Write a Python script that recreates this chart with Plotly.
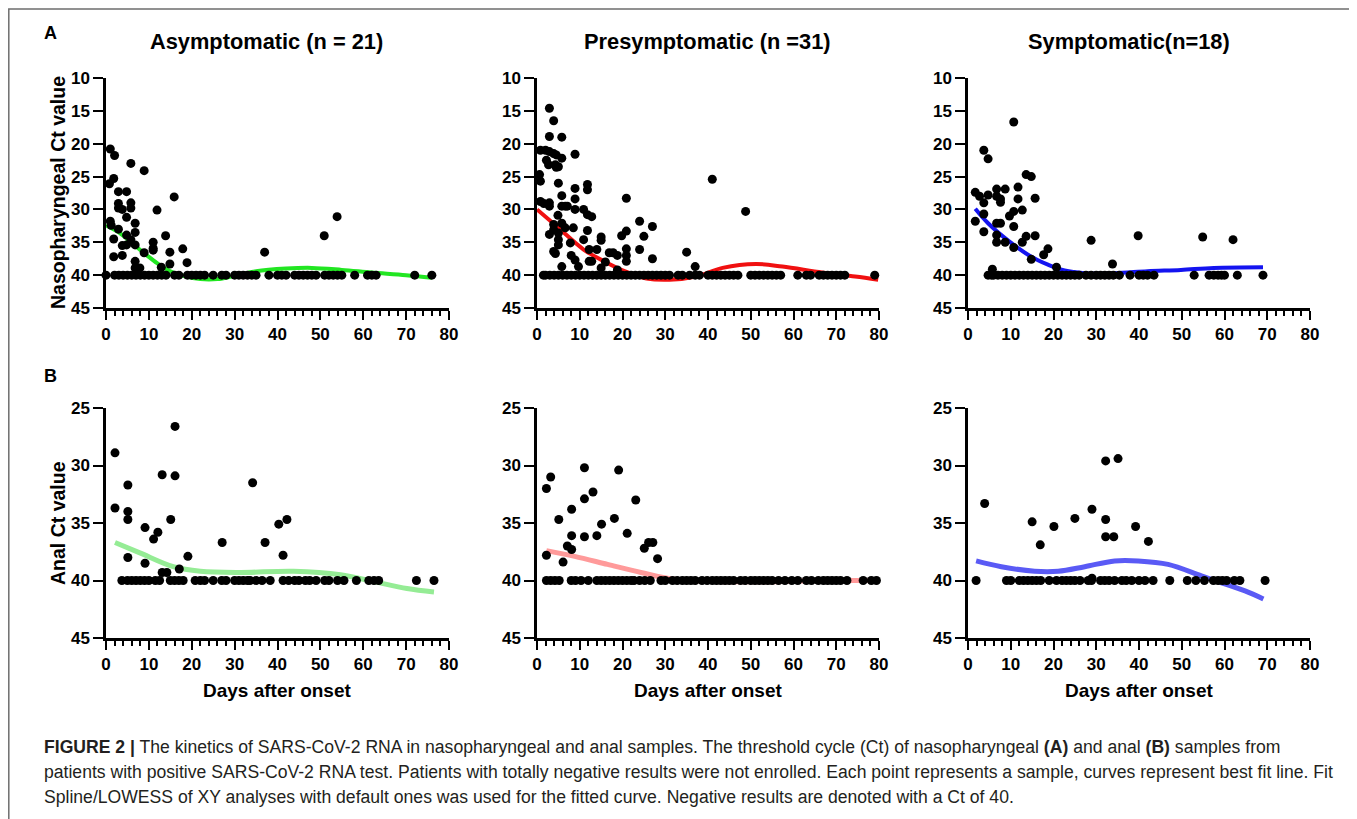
import plotly.graph_objects as go

W, H = 1357, 819
NEG_CT = 40

# ---------------- Data ----------------
titles = ["Asymptomatic (n = 21)", "Presymptomatic (n =31)", "Symptomatic(n=18)"]
x_ticks = [0, 10, 20, 30, 40, 50, 60, 70, 80]
yA_ticks = [10, 15, 20, 25, 30, 35, 40, 45]
yB_ticks = [25, 30, 35, 40, 45]

# A1 Asymptomatic - nasopharyngeal
a1_pos_days = [1, 0.8, 2, 1.8, 1, 1.2, 1.8, 1.8, 2.9, 2.9, 2.9, 2.9, 3.8, 3.8, 3.8, 4.8, 4.8, 4.8, 4.8,
               5.8, 5.8, 5.8, 5.8, 6.8, 6.8, 6.8, 6.8, 6.8, 7.9, 8.9, 8.9, 11, 11, 11, 11.9, 12.9, 13.9,
               14.9, 14.9, 15.9, 17.9, 18.9, 37, 50.9, 53.9]
a1_pos_ct = [20.8, 26.1, 21.8, 25.3, 31.8, 32.4, 34.5, 37.2, 27.3, 29.1, 29.8, 33.0, 30.0, 35.5, 37.0,
             27.3, 31.2, 33.9, 35.4, 23.0, 29.0, 29.8, 34.6, 32.1, 33.5, 35.4, 37.9, 38.9, 38.9, 24.1,
             36.6, 35.0, 35.9, 36.2, 30.1, 38.8, 34.0, 36.5, 38.3, 28.1, 36.0, 38.1, 36.5, 34.0, 31.1]
a1_neg_days = [0, 2, 3, 4, 5, 6, 7, 8, 9, 10, 11, 12, 13, 14, 16, 17, 19, 20, 21, 22, 23, 25, 27, 28,
               30, 31, 32, 33, 34, 35, 38, 40, 41, 42, 44, 45, 46, 47, 48, 49, 51, 52, 53, 54, 55, 58,
               61, 62, 63, 72, 76]
a1_fit_days = [0, 3, 6, 9, 12, 15, 18, 22, 26, 30, 35, 42, 48, 55, 62, 70, 76]
a1_fit_ct = [32.4, 33.5, 35.1, 36.7, 38.2, 39.4, 40.1, 40.6, 40.6, 40.1, 39.4, 39.0, 38.9, 39.2, 39.6, 40.0, 40.4]

# A2 Presymptomatic - nasopharyngeal
a2_pos_days = [0.6, 0.8, 0.8, 1.6, 2.9, 3.9, 2.9, 5.8, 0.8, 2.0, 2.9, 3.9, 4.5, 2.2, 2.7, 4.3, 5.8, 8.9,
               5.0, 4.5, 5.0, 2.9, 2.9, 4.9, 3.9, 3.9, 2.9, 5.0, 5.0, 5.0, 3.9, 4.3, 5.8, 5.8, 6.6, 7.1,
               5.8, 6.6, 8.5, 7.8, 5.8, 8.0, 8.9, 9.7, 8.9, 8.9, 8.9, 10.9, 11.8, 12.8, 11.8, 11.8, 10.9,
               11.8, 12.2, 12.2, 12.8, 14.0, 15.0, 15.0, 15.0, 16.0, 16.9, 17.8, 18.8, 19.8, 20.9, 18.8,
               20.9, 20.9, 20.9, 20.9, 24.0, 24.0, 25.0, 27.0, 27.0, 35.0, 37.0, 41.0, 48.8]
a2_pos_ct = [24.7, 25.7, 28.8, 29.1, 14.6, 16.5, 18.9, 19.0, 21.0, 21.0, 21.2, 21.5, 21.7, 22.5, 23.2,
             23.2, 22.2, 21.6, 23.5, 23.6, 26.0, 29.0, 29.5, 30.9, 32.3, 33.1, 33.8, 33.6, 34.6, 35.4,
             36.4, 36.7, 27.9, 29.5, 29.5, 29.5, 32.1, 32.8, 32.8, 35.1, 38.7, 37.0, 37.7, 38.7, 26.8,
             28.4, 30.0, 30.0, 30.8, 31.1, 26.2, 27.0, 34.6, 33.2, 36.1, 37.9, 37.9, 36.1, 34.2, 34.7,
             38.9, 38.0, 36.6, 36.6, 37.0, 34.0, 33.3, 39.2, 28.3, 36.0, 37.0, 37.9, 31.8, 36.1, 34.1,
             32.6, 37.5, 36.5, 38.7, 25.4, 30.3]
a2_neg_days = [1.5, 2, 3, 4, 5, 6, 7, 8, 9, 10, 11, 12, 13, 14, 15, 16, 17, 18, 19, 20, 21, 22, 23, 24,
               25, 26, 27, 28, 29, 30, 31, 33, 34, 35.7, 37, 38, 40, 41, 42, 43, 44, 45, 46, 47, 50, 51,
               52, 53, 54, 55, 56, 57, 61, 63, 64, 66, 67, 68, 69, 70, 71, 72, 79]
a2_fit_days = [0, 5, 10.9, 16, 20.5, 25.6, 31, 37.2, 43.4, 51.2, 57.4, 66.7, 74.4, 79.8]
a2_fit_ct = [30.0, 32.8, 36.1, 38.0, 39.4, 40.5, 40.7, 40.2, 38.9, 38.3, 38.7, 39.6, 40.2, 40.7]

# A3 Symptomatic - nasopharyngeal
a3_pos_days = [1.7, 1.7, 2.7, 3.7, 3.7, 3.7, 3.7, 4.7, 4.7, 5.7, 6.7, 6.7, 6.7, 7.6, 6.7, 6.7, 7.6, 7.6,
               8.7, 8.7, 9.7, 10.7, 10.7, 10.7, 10.7, 11.7, 11.7, 12.7, 12.7, 13.6, 14.8, 13.6, 14.8,
               15.7, 15.7, 17.7, 18.7, 20.7, 28.8, 33.8, 39.8, 54.9, 62.0]
a3_pos_ct = [31.8, 27.4, 28.0, 29.0, 30.7, 33.4, 21.0, 22.3, 27.8, 39.1, 26.9, 28.0, 32.1, 32.1, 33.9,
             35.0, 28.4, 28.9, 26.9, 35.0, 31.0, 16.7, 30.3, 32.6, 35.8, 26.6, 28.4, 30.1, 35.0, 24.7,
             25.0, 34.1, 37.6, 28.3, 34.0, 36.9, 36.0, 38.8, 34.7, 38.3, 34.0, 34.2, 34.6]
a3_neg_days = [4.7, 5.5, 6, 7, 8, 9, 10, 11, 12, 13, 14, 15, 16, 17, 18, 19, 20, 21, 22, 23, 24, 25, 26,
               27.6, 28.8, 30, 31, 32, 33, 34, 35.4, 37.9, 40, 41, 42, 43.5, 52.9, 56.4, 57.5, 58.5,
               59.3, 60, 63, 69]
a3_fit_days = [1.7, 4.7, 9.7, 14.8, 18.7, 22.6, 27.2, 34.2, 42, 49.8, 57.5, 69]
a3_fit_ct = [29.9, 32.1, 34.9, 37.2, 38.4, 39.3, 39.7, 39.7, 39.4, 39.2, 38.9, 38.8]

# B1 Asymptomatic - anal
b1_pos_days = [2.1, 2.1, 5.1, 5.1, 5.1, 5.1, 9.1, 9.1, 11.1, 12.1, 13.1, 13.1, 14.2, 15.1, 16.1, 16.1,
               17.1, 19.1, 27.1, 34.2, 37.1, 40.3, 41.3, 42.2]
b1_pos_ct = [28.9, 33.7, 31.7, 34.0, 34.7, 38.0, 35.4, 38.5, 36.4, 35.8, 30.8, 39.3, 39.3, 34.7, 26.6,
             30.9, 39.0, 37.9, 36.7, 31.5, 36.7, 35.1, 37.8, 34.7]
b1_neg_days = [3.7, 5, 6, 7, 8, 9, 10, 11.5, 12.5, 15, 16, 17, 18, 20.8, 22, 23, 25, 27, 28, 30, 31, 32,
               33, 33.6, 35, 36.4, 38.3, 41.3, 42.6, 44, 45, 46.5, 47.5, 49, 51, 52, 54, 55.5, 58.4,
               61.3, 62.5, 63.6, 72.4, 76.5]
b1_fit_days = [2.1, 7.9, 15.7, 22, 31.3, 43.8, 54.7, 62.5, 70.2, 76.5]
b1_fit_ct = [36.7, 37.6, 38.8, 39.2, 39.3, 39.2, 39.5, 40.1, 40.7, 41.0]

# B2 Presymptomatic - anal
b2_pos_days = [2.2, 3.2, 2.2, 5.1, 6.1, 7.1, 8.1, 8.1, 8.1, 11.1, 11.1, 11.1, 13.1, 14.0, 15.1, 18.1,
               19.1, 21.1, 23.1, 25.1, 26.1, 27.1, 28.2]
b2_pos_ct = [32.0, 31.0, 37.8, 34.7, 38.4, 37.0, 33.8, 36.1, 37.3, 30.2, 32.9, 36.2, 32.3, 36.1, 35.1,
             34.6, 30.4, 35.9, 33.0, 37.2, 36.7, 36.7, 38.1]
b2_neg_days = [2.2, 3.2, 4.2, 5.2, 8, 9, 10.3, 12, 14, 15, 16, 17, 18, 19, 20, 21, 22, 22.7, 24, 25.2,
               26.5, 29, 30, 31.7, 32.8, 34, 35, 36, 37, 38.6, 39.8, 41, 42, 43, 44, 45, 46, 47.6, 48.7,
               50, 51, 52, 53, 54, 55, 56.5, 58, 59.6, 61, 63, 64.2, 65.8, 67, 68, 69, 70, 71, 72.5,
               76.3, 78.2, 79.4]
b2_fit_days = [2.2, 8.8, 16.5, 24.3, 32, 43.7, 55.3, 67, 79.4]
b2_fit_ct = [37.4, 37.9, 38.6, 39.3, 39.9, 40.1, 40.1, 40.0, 40.0]

# B3 Symptomatic - anal
b3_pos_days = [3.9, 15.0, 16.9, 20.1, 25.0, 29.0, 29.0, 32.2, 32.2, 32.2, 34.1, 35.1, 39.2, 42.2]
b3_pos_ct = [33.3, 34.9, 36.9, 35.3, 34.6, 33.8, 39.8, 29.6, 34.7, 36.2, 36.2, 29.4, 35.3, 36.6]
b3_neg_days = [1.9, 9, 10, 12, 13, 14, 15, 16, 17, 19, 20.7, 22, 23, 24, 25, 26.2, 28.1, 28.9, 31, 32,
               33, 34.3, 36, 37, 38.3, 40, 41.4, 43.3, 47.2, 51.3, 53.3, 55.3, 57.4, 58.5, 59.5, 60.5,
               62.3, 63.6, 69.5]
b3_fit_days = [1.9, 7.8, 15.6, 21.1, 27.3, 34.3, 39.8, 46.8, 54.6, 59.3, 64.8, 69.1]
b3_fit_ct = [38.3, 38.8, 39.2, 39.2, 38.8, 38.3, 38.3, 38.6, 39.6, 40.2, 40.9, 41.6]

panels = [
    (a1_pos_days, a1_pos_ct, a1_neg_days, a1_fit_days, a1_fit_ct, "#22e622", 4),
    (a2_pos_days, a2_pos_ct, a2_neg_days, a2_fit_days, a2_fit_ct, "#f01010", 4),
    (a3_pos_days, a3_pos_ct, a3_neg_days, a3_fit_days, a3_fit_ct, "#1414f0", 4),
    (b1_pos_days, b1_pos_ct, b1_neg_days, b1_fit_days, b1_fit_ct, "#95ec95", 5),
    (b2_pos_days, b2_pos_ct, b2_neg_days, b2_fit_days, b2_fit_ct, "#ff9a9a", 5),
    (b3_pos_days, b3_pos_ct, b3_neg_days, b3_fit_days, b3_fit_ct, "#5a5af5", 5),
]

# ---------------- Layout geometry (screen pixels; page body adds an 8px offset) ----------------
OX, OY = 8, 8
col_px = [(106, 449), (537, 879), (968, 1310)]
row_px = [(78, 308), (408, 638)]

def fx(px):
    return (px - OX) / W

def fy(py):
    return 1 - (py - OY) / H

fig = go.Figure()
FONT = "Liberation Sans, Arial, sans-serif"

layout_axes = {}
for i, (pd_, pc, nd, fd, fc, col, lw) in enumerate(panels):
    r, c = divmod(i, 3)
    n = i + 1
    xa = "x" if n == 1 else f"x{n}"
    ya = "y" if n == 1 else f"y{n}"
    fig.add_trace(go.Scatter(x=fd, y=fc, mode="lines", line=dict(color=col, width=lw, shape="spline", smoothing=1.0),
                             xaxis=xa, yaxis=ya, showlegend=False, hoverinfo="skip"))
    fig.add_trace(go.Scatter(x=nd, y=[NEG_CT] * len(nd), mode="markers",
                             marker=dict(color="black", size=9), cliponaxis=False,
                             xaxis=xa, yaxis=ya, showlegend=False))
    fig.add_trace(go.Scatter(x=pd_, y=pc, mode="markers",
                             marker=dict(color="black", size=9), cliponaxis=False,
                             xaxis=xa, yaxis=ya, showlegend=False))
    x0, x1 = col_px[c]
    y0, y1 = row_px[r]
    xkey = "xaxis" if n == 1 else f"xaxis{n}"
    ykey = "yaxis" if n == 1 else f"yaxis{n}"
    layout_axes[xkey] = dict(
        domain=[fx(x0), fx(x1)], anchor=ya, range=[0, 80], tickvals=x_ticks,
        showline=True, linecolor="black", linewidth=2.5, showgrid=False, zeroline=False,
        ticks="outside", ticklen=9, tickwidth=2.2, tickcolor="black", automargin=False,
        minor=dict(dtick=2, tick0=0, ticks="outside", ticklen=5, tickwidth=2, tickcolor="black", showgrid=False),
        tickfont=dict(family=FONT, size=17, color="black", weight="bold"),
        fixedrange=True,
    )
    layout_axes[ykey] = dict(
        domain=[fy(y1), fy(y0)], anchor=xa,
        range=[45, 10] if r == 0 else [45, 25],
        tickvals=yA_ticks if r == 0 else yB_ticks,
        showline=True, linecolor="black", linewidth=2.5, showgrid=False, zeroline=False,
        ticks="outside", ticklen=10, tickwidth=2.2, tickcolor="black", automargin=False,
        tickfont=dict(family=FONT, size=17, color="black", weight="bold"),
        fixedrange=True,
    )

annotations = []
title_cx = [266, 707, 1129]
for t, cx in zip(titles, title_cx):
    annotations.append(dict(text=f"<b>{t}</b>", x=fx(cx), y=fy(42), xref="paper", yref="paper",
                            showarrow=False, xanchor="center", yanchor="middle",
                            font=dict(family=FONT, size=21.8, color="black")))
for lab, py in [("A", 33), ("B", 376)]:
    annotations.append(dict(text=f"<b>{lab}</b>", x=fx(50), y=fy(py), xref="paper", yref="paper",
                            showarrow=False, xanchor="center", yanchor="middle",
                            font=dict(family=FONT, size=18, color="black")))
annotations.append(dict(text="<b>Nasopharyngeal Ct value</b>", x=fx(58), y=fy(193), xref="paper", yref="paper",
                        showarrow=False, textangle=-90, xanchor="center", yanchor="middle",
                        font=dict(family=FONT, size=19.5, color="black")))
annotations.append(dict(text="<b>Anal Ct value</b>", x=fx(58), y=fy(523), xref="paper", yref="paper",
                        showarrow=False, textangle=-90, xanchor="center", yanchor="middle",
                        font=dict(family=FONT, size=19.5, color="black")))
for (x0, x1) in col_px:
    annotations.append(dict(text="<b>Days after onset</b>", x=fx((x0 + x1) / 2), y=fy(690), xref="paper",
                            yref="paper", showarrow=False, xanchor="center", yanchor="middle",
                            font=dict(family=FONT, size=19, color="black")))

caption_lines = [
    "<b>FIGURE 2 |</b> The kinetics of SARS-CoV-2 RNA in nasopharyngeal and anal samples. The threshold cycle (Ct) of nasopharyngeal <b>(A)</b> and anal <b>(B)</b> samples from",
    "patients with positive SARS-CoV-2 RNA test. Patients with totally negative results were not enrolled. Each point represents a sample, curves represent best fit line. Fit",
    "Spline/LOWESS of XY analyses with default ones was used for the fitted curve. Negative results are denoted with a Ct of 40.",
]
for line, py in zip(caption_lines, [747, 772, 797]):
    annotations.append(dict(text=line, x=fx(42), y=fy(py), xref="paper", yref="paper", showarrow=False,
                            xanchor="left", yanchor="middle",
                            font=dict(family=FONT, size=17.6, color="#231f20")))

fig.update_layout(
    width=W, height=H, margin=dict(l=0, r=0, t=0, b=0, autoexpand=False),
    paper_bgcolor="white", plot_bgcolor="white",
    showlegend=False, annotations=annotations,
    shapes=[dict(type="rect", xref="paper", yref="paper", x0=fx(8.8), x1=fx(1354), y0=-0.02,
                 y1=1 - 1.0 / H,
                 line=dict(color="#6e6e6e", width=1.5), fillcolor="rgba(0,0,0,0)", layer="below")],
    **layout_axes,
)

fig.write_html("out.html")
